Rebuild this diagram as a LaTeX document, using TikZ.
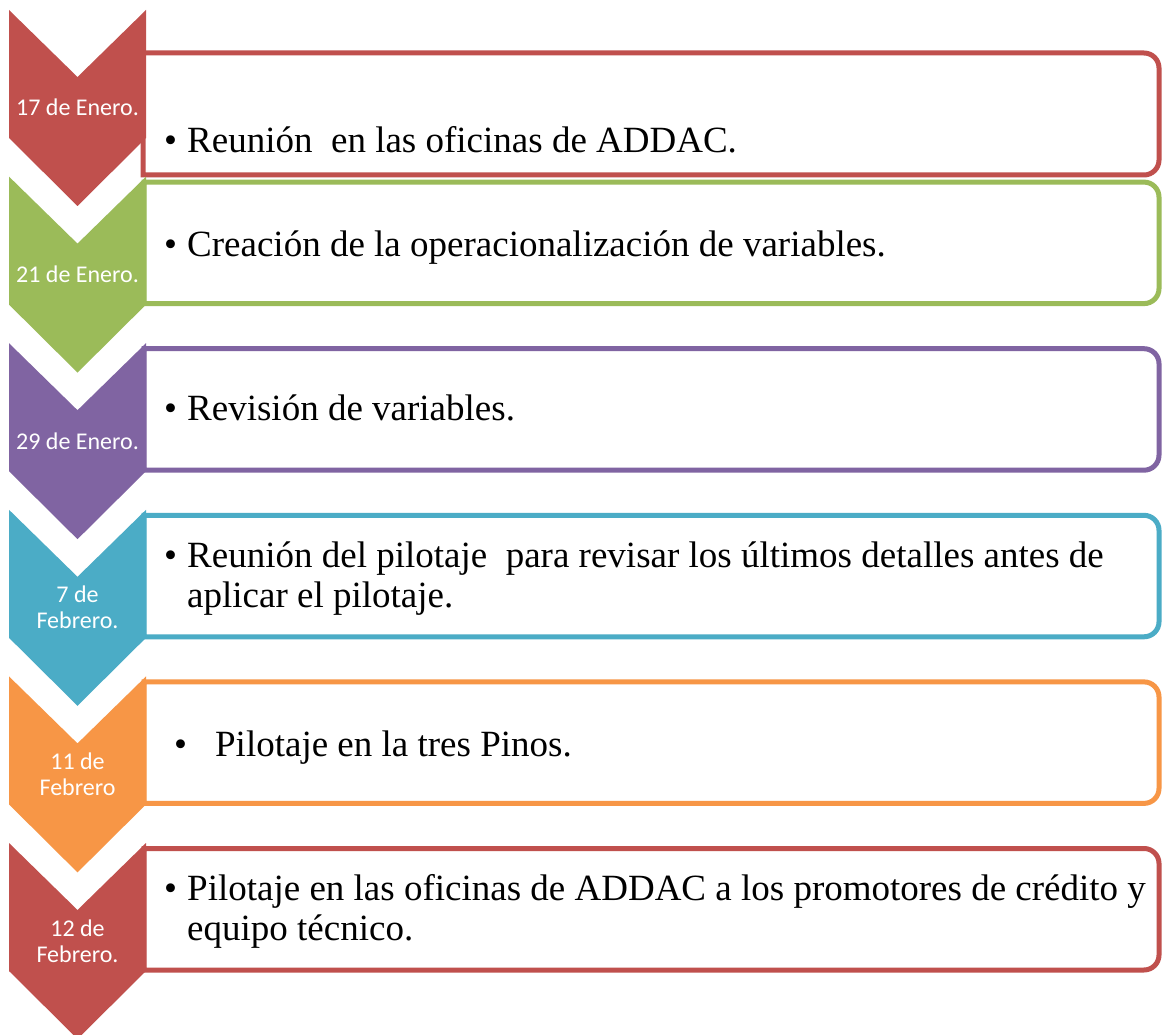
\documentclass[tikz,border=0pt]{standalone}
\usepackage{fontspec}
\setmainfont{Liberation Serif}
\newfontfamily\lblfont{Carlito}
\definecolor{cred}{HTML}{C0504D}
\definecolor{cgreen}{HTML}{9BBB59}
\definecolor{cpurple}{HTML}{8064A2}
\definecolor{cblue}{HTML}{4BACC6}
\definecolor{corange}{HTML}{F79646}
\newcommand{\panelbox}[4]{%
  \draw[panel=#1] (#2,-#3) -- (1144,-#3) arc[start angle=90,end angle=0,radius=15]
    -- (1159,-#4+15) arc[start angle=0,end angle=-90,radius=15] -- (#2,-#4) -- cycle;}
\newcommand{\chevshape}[2]{%
  \fill[#1] (9,-#2) -- (77.5,-#2-67) -- (146,-#2) -- (146,-#2-128)
    -- (77.5,-#2-196) -- (9,-#2-128) -- cycle;}
\begin{document}
\begin{tikzpicture}[x=1pt,y=1pt,
  panel/.style={draw=#1, line width=5pt, fill=white},
  datelbl/.style={font=\lblfont\fontsize{24}{26}\selectfont, text=white, align=center, inner sep=0pt, anchor=base},
  itemtxt/.style={font=\fontsize{37}{39.5}\selectfont, align=left, inner sep=0pt, anchor=base west}]
\useasboundingbox (0,0) rectangle (1162,-1035);
\fill[white] (0,0) rectangle (1162,-1035);
% panels
\panelbox{cred}{143}{53}{175}
\panelbox{cgreen}{144}{182.1}{303.6}
\panelbox{cpurple}{144}{348.7}{470.2}
\panelbox{cblue}{144}{515.3}{636.8}
\panelbox{corange}{144}{681.9}{803.4}
\panelbox{cred}{144}{848.5}{970}
% chevrons
\chevshape{cred}{10}
\chevshape{cgreen}{176.6}
\chevshape{cpurple}{343.2}
\chevshape{cblue}{509.8}
\chevshape{corange}{676.4}
\chevshape{cred}{843}
% date labels (base anchor = baseline of last line)
\node[datelbl] (d1) at (77.5,-115.8) {17 de Enero.};
\node[datelbl] (d2) at (77.5,-282.5) {21 de Enero.};
\node[datelbl] (d3) at (77.5,-449.1) {29 de Enero.};
\node[datelbl] (d4) at (77.5,-628.6) {7 de\\Febrero.};
\node[datelbl] (d5) at (77.5,-795.4) {11 de\\Febrero};
\node[datelbl] (d6) at (77.5,-962.2) {12 de\\Febrero.};
% item texts
\node[itemtxt] (e1) at (187,-153) {\llap{•\hspace{10pt}}Reunión\ \ en las oficinas de ADDAC.};
\node[itemtxt] (e2) at (187,-256) {\llap{•\hspace{10pt}}Creación de la operacionalización de variables.};
\node[itemtxt] (e3) at (187,-420) {\llap{•\hspace{10pt}}Revisión de variables.};
\node[itemtxt] (e4) at (187,-607) {\llap{•\hspace{10pt}}Reunión del pilotaje\ \ para revisar los últimos detalles antes de\\aplicar el pilotaje.};
\node[itemtxt] (e5) at (215,-756) {\llap{•\hspace{28pt}}Pilotaje en la tres Pinos.};
\node[itemtxt] (e6) at (187,-940) {\llap{•\hspace{10pt}}Pilotaje en las oficinas de ADDAC a los promotores de crédito y\\equipo técnico.};
\end{tikzpicture}
\end{document}
